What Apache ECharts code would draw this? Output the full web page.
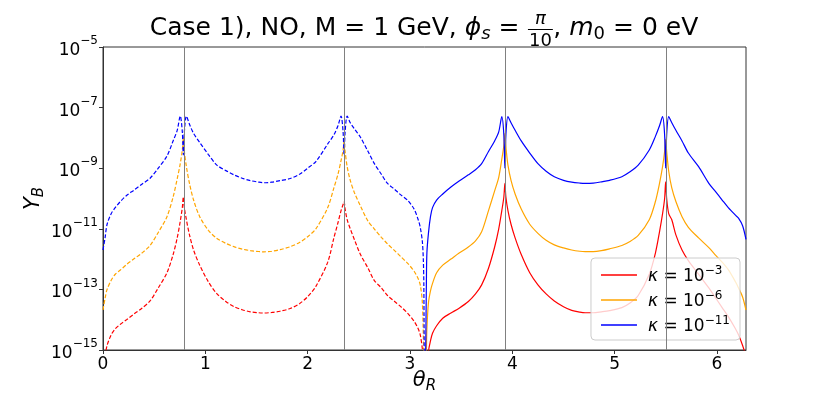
<!DOCTYPE html>
<html><head><meta charset="utf-8">
<script src="https://cdn.jsdelivr.net/npm/echarts@6/dist/echarts.min.js"></script>
<style>html,body{margin:0;padding:0;background:#fff}#c{width:831px;height:394px}</style>
</head><body><div id="c"></div>
<script>
// ---- data (log10 of Y_B) ----
const thetaDashed = [0, 0.02, 0.04, 0.08, 0.12, 0.17, 0.23, 0.30, 0.38, 0.46, 0.54,
  0.625, 0.685, 0.725, 0.755, 0.775, 0.785, 0.795, 0.815, 0.845, 0.885, 0.945,
  1.03, 1.11, 1.2, 1.28, 1.36, 1.44, 1.52, 1.571, 1.65, 1.73, 1.83, 1.92, 2.0, 2.08,
  2.196, 2.256, 2.296, 2.326, 2.346, 2.356, 2.366, 2.386, 2.416, 2.456, 2.516,
  2.59, 2.65, 2.72, 2.78, 2.85, 2.91, 2.98, 3.04, 3.08, 3.10, 3.12, 3.13, 3.135, 3.14];
const logYB_k3_dashed = [-15.6, -15.2, -14.85, -14.5, -14.3, -14.15, -14.0, -13.82, -13.62, -13.38, -12.95,
  -12.45, -11.85, -11.3, -10.75, -10.3, -9.95, -10.3, -10.7, -11.2, -11.7, -12.2,
  -12.75, -13.13, -13.4, -13.57, -13.67, -13.74, -13.77, -13.78, -13.76, -13.72, -13.63, -13.47, -13.24, -12.9,
  -12.1, -11.3, -10.8, -10.4, -10.2, -10.1, -10.35, -10.7, -11.0, -11.35, -11.85,
  -12.3, -12.7, -12.95, -13.2, -13.4, -13.57, -13.8, -14.05, -14.3, -14.5, -14.95, -15.5, -16, -16.5];
const logYB_k6_dashed = [-13.68, -13.3, -13.0, -12.7, -12.5, -12.36, -12.18, -12.0, -11.8, -11.55, -11.12,
  -10.6, -9.95, -9.35, -8.85, -8.4, -8.0, -8.45, -8.95, -9.5, -10.05, -10.6,
  -11.05, -11.31, -11.48, -11.59, -11.67, -11.72, -11.75, -11.76, -11.74, -11.69, -11.59, -11.45, -11.26, -11.0,
  -10.3, -9.65, -9.2, -8.75, -8.4, -8.1, -8.45, -8.95, -9.4, -9.8, -10.25,
  -10.75, -11.0, -11.28, -11.5, -11.72, -11.92, -12.15, -12.4, -12.65, -12.85, -13.4, -14.5, -15.5, -16.5];
const logYB_k11_dashed = [-11.7, -11.3, -10.85, -10.5, -10.3, -10.1, -9.9, -9.73, -9.53, -9.33, -9.0,
  -8.6, -8.1, -7.75, -7.28, -7.8, -8.56, -7.8, -7.28, -7.55, -7.85, -8.15,
  -8.55, -8.89, -9.08, -9.22, -9.33, -9.41, -9.46, -9.48, -9.46, -9.41, -9.34, -9.2, -9.0, -8.78,
  -8.2, -7.9, -7.6, -7.28, -7.8, -8.56, -7.8, -7.28, -7.5, -7.7, -7.98,
  -8.45, -8.84, -9.2, -9.5, -9.7, -9.88, -10.07, -10.35, -10.7, -10.95, -11.4, -12.0, -12.8, -16];

const thetaSolid = [3.150, 3.155, 3.16, 3.165, 3.18, 3.2, 3.22, 3.26, 3.32, 3.40, 3.48, 3.57, 3.64, 3.70,
  3.767, 3.827, 3.867, 3.897, 3.917, 3.927, 3.937, 3.957, 3.987, 4.027, 4.087,
  4.17, 4.25, 4.33, 4.41, 4.50, 4.58, 4.66, 4.712, 4.79, 4.87, 4.95, 5.07, 5.15, 5.23,
  5.338, 5.398, 5.438, 5.468, 5.488, 5.498, 5.508, 5.528, 5.558, 5.598, 5.658,
  5.72, 5.82, 5.92, 5.98, 6.05, 6.11, 6.18, 6.21, 6.25, 6.283];
const logYB_k3_solid = [-17, -16.8, -16.5, -16, -15.05, -14.7, -14.45, -14.2, -13.95, -13.78, -13.62, -13.4, -13.15, -12.85,
  -12.3, -11.6, -11.0, -10.4, -9.95, -9.5, -9.95, -10.4, -10.85, -11.3, -11.85,
  -12.45, -12.85, -13.15, -13.38, -13.57, -13.69, -13.75, -13.77, -13.77, -13.74, -13.7, -13.6, -13.45, -13.2,
  -12.5, -11.8, -11.1, -10.5, -10.0, -9.45, -10.0, -10.5, -10.7, -11.2, -11.7,
  -12.05, -12.5, -12.95, -13.25, -13.6, -13.9, -14.3, -14.5, -14.85, -15.2];
const logYB_k6_solid = [-16, -15.5, -15, -14.3, -13.45, -13.05, -12.8, -12.45, -12.2, -12.0, -11.8, -11.6, -11.4, -11.1,
  -10.4, -9.75, -9.3, -8.7, -8.25, -7.85, -8.3, -8.9, -9.4, -9.85, -10.35,
  -10.85, -11.15, -11.38, -11.53, -11.63, -11.70, -11.74, -11.75, -11.75, -11.72, -11.66, -11.55, -11.42, -11.22,
  -10.7, -10.1, -9.5, -8.95, -8.45, -8.05, -8.45, -9.1, -9.65, -10.1, -10.6,
  -10.95, -11.3, -11.62, -11.85, -12.1, -12.35, -12.75, -12.95, -13.25, -13.68];
const logYB_k11_solid = [-16, -14.5, -12.8, -11.8, -11.15, -10.6, -10.3, -10.05, -9.85, -9.62, -9.42, -9.22, -9.05, -8.85,
  -8.45, -8.1, -7.8, -7.3, -7.9, -9.0, -7.9, -7.3, -7.5, -7.75, -8.1,
  -8.5, -8.85, -9.1, -9.28, -9.4, -9.46, -9.49, -9.5, -9.49, -9.45, -9.4, -9.28, -9.12, -8.9,
  -8.4, -7.95, -7.6, -7.3, -7.9, -9.0, -7.9, -7.3, -7.5, -7.75, -8.1,
  -8.5, -8.95, -9.5, -9.75, -10.05, -10.3, -10.55, -10.65, -10.9, -11.35];

const xTickValues = [0, 1, 2, 3, 4, 5, 6];
const yTickExponents = [-15, -13, -11, -9, -7, -5];
const verticalLines = [Math.PI / 4, 3 * Math.PI / 4, 5 * Math.PI / 4, 7 * Math.PI / 4];
const seriesNames = ['k3', 'k6', 'k11'];
const kappaExponents = ['−3', '−6', '−11'];
const seriesColors = ['#ff0000', '#ffa500', '#0000ff'];

// ---- build ----
const FONT = '"DejaVu Sans"';
const toPairs = (th, lg) => th.map((t, i) => [t, Math.pow(10, lg[i])]);
const dashedData = [logYB_k3_dashed, logYB_k6_dashed, logYB_k11_dashed];
const solidData = [logYB_k3_solid, logYB_k6_solid, logYB_k11_solid];

const series = [];
series.push({
  name: 'vlines', type: 'line', data: [], silent: true, z: 1,
  markLine: { silent: true, symbol: ['none', 'none'], animation: false,
    label: { show: false }, lineStyle: { color: '#808080', width: 1, type: 'solid' },
    data: verticalLines.map(v => ({ xAxis: v })) }
});
for (let i = 0; i < 3; i++) {
  series.push({ name: seriesNames[i] + '_d', type: 'line', symbol: 'none', z: 3, smooth: 0.3,
    data: toPairs(thetaDashed, dashedData[i]), clip: true,
    lineStyle: { color: seriesColors[i], width: 1.2, type: [4, 2] }, itemStyle: { color: seriesColors[i] } });
}
for (let i = 0; i < 3; i++) {
  series.push({ name: seriesNames[i], type: 'line', symbol: 'none', z: 3, smooth: 0.3,
    data: toPairs(thetaSolid, solidData[i]), clip: true,
    lineStyle: { color: seriesColors[i], width: 1.2, type: 'solid' }, itemStyle: { color: seriesColors[i] } });
}

// title pieces
const ctx = document.createElement('canvas').getContext('2d');
function tw(t, size, italic) { ctx.font = (italic ? 'italic ' : '') + size + 'px ' + FONT; return ctx.measureText(t).width; }
const TS = 25, SS = 18, MID = 28, CX = 424;
const parts = [
  { t: 'Case 1), NO, M = 1 GeV, ', s: TS, i: false, dy: 0 },
  { t: 'ϕ', s: TS, i: true, dy: 0 },
  { t: 's', s: SS, i: true, dy: 6 },
  { t: ' = ', s: TS, i: false, dy: 0 },
  { frac: true, num: 'π', den: '10' },
  { t: ', ', s: TS, i: false, dy: 0 },
  { t: 'm', s: TS, i: true, dy: 0 },
  { t: '0', s: SS, i: false, dy: 6 },
  { t: ' = 0 eV', s: TS, i: false, dy: 0 }
];
parts.forEach(p => { p.w = p.frac ? Math.max(tw(p.num, SS, true), tw(p.den, SS, false)) + 3 : tw(p.t, p.s, p.i); });
const total = parts.reduce((a, p) => a + p.w, 0);
let x = CX - total / 2;
const graphics = [];
parts.forEach(p => {
  if (p.frac) {
    const cx = x + p.w / 2;
    graphics.push({ type: 'text', style: { text: p.num, x: cx, y: MID - 9, font: 'italic ' + SS + 'px ' + FONT, fill: '#000', align: 'center', verticalAlign: 'middle' } });
    graphics.push({ type: 'line', shape: { x1: x + 0.5, y1: MID + 1.5, x2: x + p.w - 0.5, y2: MID + 1.5 }, style: { stroke: '#000', lineWidth: 1 } });
    graphics.push({ type: 'text', style: { text: p.den, x: cx, y: MID + 13, font: SS + 'px ' + FONT, fill: '#000', align: 'center', verticalAlign: 'middle' } });
  } else {
    graphics.push({ type: 'text', style: { text: p.t, x: x, y: MID + p.dy, font: (p.i ? 'italic ' : '') + p.s + 'px ' + FONT, fill: '#000', align: 'left', verticalAlign: 'middle' } });
  }
  x += p.w;
});

const nameRich = { i: { fontFamily: FONT, fontStyle: 'italic', fontSize: 21, color: '#000' },
  sub: { fontFamily: FONT, fontStyle: 'italic', fontSize: 15, color: '#000', padding: [12, 0, 0, 0] } };

const option = {
  animation: false,
  backgroundColor: '#fff',
  textStyle: { fontFamily: FONT },
  graphic: graphics,
  grid: { left: 103, right: 85, top: 47, bottom: 44, outerBoundsMode: 'none', containLabel: false,
    show: true, borderColor: '#333', borderWidth: 1, backgroundColor: 'transparent' },
  xAxis: {
    type: 'value', min: 0, max: 2 * Math.PI, interval: 1,
    name: '{i|θ}{sub|R}', nameLocation: 'middle', nameGap: 17, nameMoveOverlap: false,
    nameTextStyle: { rich: nameRich },
    axisLine: { lineStyle: { color: '#333', width: 1 } },
    axisTick: { show: true, length: 4, lineStyle: { color: '#333' } },
    axisLabel: { showMaxLabel: false, fontSize: 17, color: '#000', margin: 6, fontFamily: FONT,
      formatter: v => xTickValues.some(t => Math.abs(t - v) < 1e-9) ? String(Math.round(v)) : '' },
    splitLine: { show: false }
  },
  yAxis: {
    type: 'log', logBase: 10, min: 1e-15, max: 1e-5, interval: 2,
    name: '{i|Y}{sub|B}', nameLocation: 'middle', nameGap: 56, nameRotate: 90, nameMoveOverlap: false,
    nameTextStyle: { rich: nameRich },
    axisLine: { show: true, lineStyle: { color: '#333', width: 1 } },
    axisTick: { show: true, length: 4, lineStyle: { color: '#333' } },
    axisLabel: { margin: 5, color: '#000',
      formatter: v => {
        const e = Math.round(Math.log10(v));
        if (!yTickExponents.includes(e)) return '';
        return '{b|10}{s|' + String(e).replace('-', '−') + '}';
      },
      rich: { b: { fontFamily: FONT, fontSize: 17, color: '#000', lineHeight: 24, verticalAlign: 'bottom' },
        s: { fontFamily: FONT, fontSize: 12, color: '#000', lineHeight: 12, verticalAlign: 'top' } } },
    splitLine: { show: false }
  },
  legend: {
    data: seriesNames, orient: 'vertical', right: 91, bottom: 54,
    icon: 'rect', itemWidth: 36, itemHeight: 1.5, itemGap: 5,
    padding: [7, 10, 5, 10],
    backgroundColor: 'rgba(255,255,255,0.8)', borderColor: '#cccccc', borderWidth: 1, borderRadius: 4,
    formatter: name => '{k|κ}{n| = 10}{s|' + kappaExponents[seriesNames.indexOf(name)] + '}',
    textStyle: { rich: {
      k: { fontFamily: FONT, fontStyle: 'italic', fontSize: 17, color: '#000', lineHeight: 20, verticalAlign: 'bottom', padding: [0, 0, 0, 6] },
      n: { fontFamily: FONT, fontSize: 17, color: '#000', lineHeight: 20, verticalAlign: 'bottom' },
      s: { fontFamily: FONT, fontSize: 12, color: '#000', lineHeight: 12, verticalAlign: 'top' } } }
  },
  series: series
};
const chart = echarts.init(document.getElementById('c'), null, { renderer: 'canvas' });
chart.setOption(option);
</script></body></html>
